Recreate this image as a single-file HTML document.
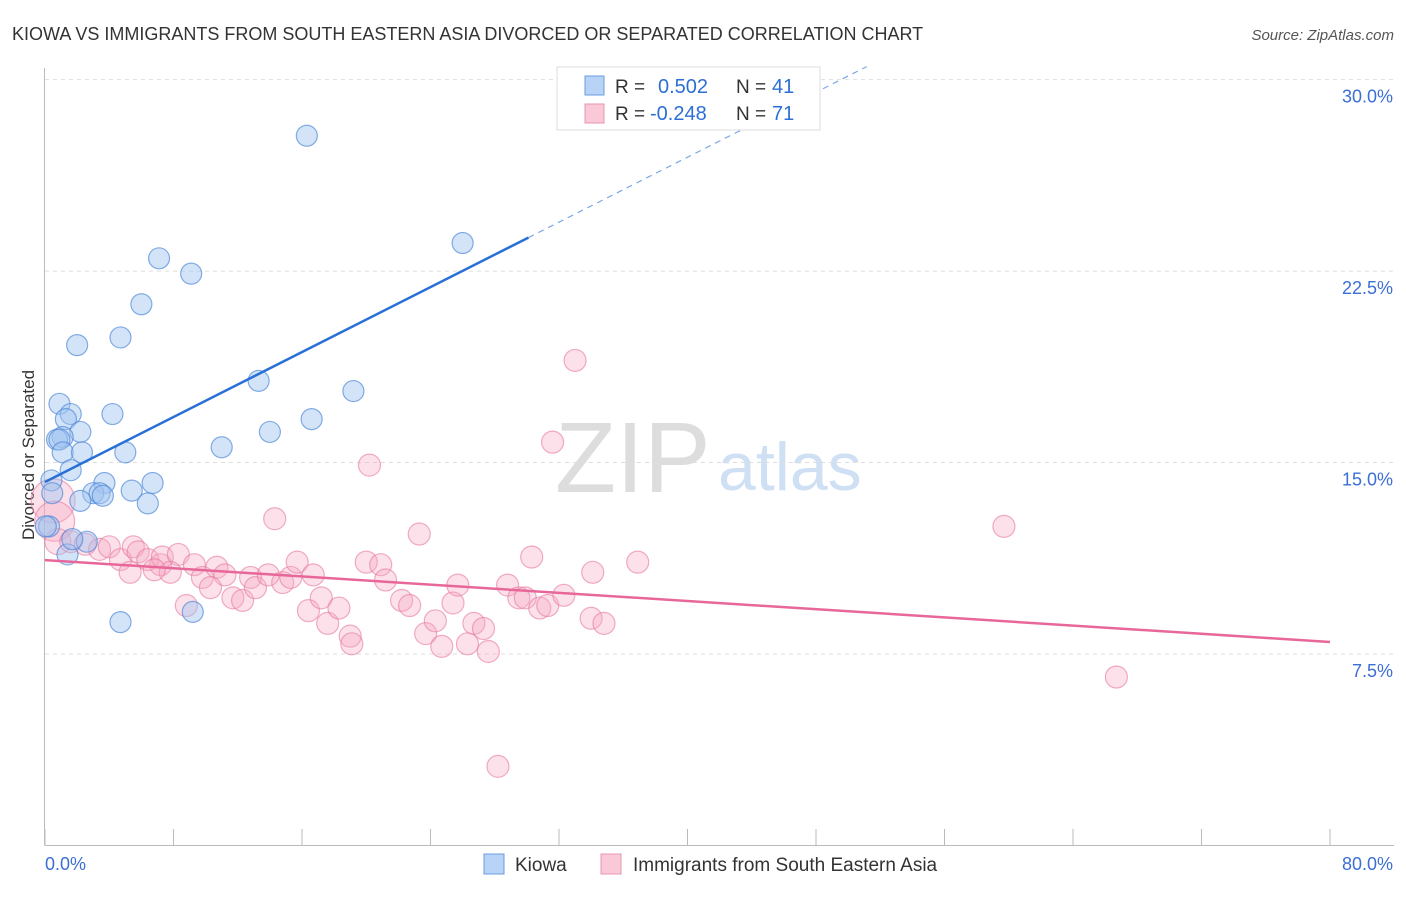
<!DOCTYPE html>
<html><head><meta charset="utf-8"><style>
body{margin:0;background:#fff;font-family:"Liberation Sans",sans-serif;}
svg text{font-family:"Liberation Sans",sans-serif;}
</style></head><body>
<svg id="c" width="1406" height="892">
<text x="12" y="40" font-size="18" fill="#333">KIOWA VS IMMIGRANTS FROM SOUTH EASTERN ASIA DIVORCED OR SEPARATED CORRELATION CHART</text>
<text x="1394" y="40" font-size="15" fill="#555" font-style="italic" text-anchor="end">Source: ZipAtlas.com</text>
<text x="34" y="455" font-size="17" fill="#333" text-anchor="middle" transform="rotate(-90 34 455)">Divorced or Separated</text>
<text x="555" y="492" font-size="100" fill="#ddd" font-family="Liberation Serif">ZIP</text>
<text x="718" y="490" font-size="68" fill="#cfe0f5">atlas</text>
<g id="grid"></g><g id="pts"></g><g id="lines"></g>
<g>
<rect x="557" y="67" width="263" height="63" fill="#fff" stroke="#ddd"/>
<rect x="585" y="76" width="19" height="19" fill="#b8d3f5" stroke="#6a9de0"/>
<text x="615" y="93" font-size="19" fill="#333">R = </text><text x="658" y="93" font-size="20" fill="#2d6fd4">0.502</text>
<text x="736" y="93" font-size="19" fill="#333">N = </text><text x="772" y="93" font-size="20" fill="#2d6fd4">41</text>
<rect x="585" y="104" width="19" height="19" fill="#f9c9d8" stroke="#e995b2"/>
<text x="615" y="120" font-size="19" fill="#333">R = </text><text x="650" y="120" font-size="20" fill="#2d6fd4">-0.248</text>
<text x="736" y="120" font-size="19" fill="#333">N = </text><text x="772" y="120" font-size="20" fill="#2d6fd4">71</text>
</g>
<g>
<rect x="484" y="854" width="20" height="20" fill="#b8d3f5" stroke="#6a9de0"/>
<text x="515" y="871" font-size="19" fill="#333">Kiowa</text>
<rect x="601" y="854" width="20" height="20" fill="#f9c9d8" stroke="#e995b2"/>
<text x="633" y="871" font-size="19" fill="#333">Immigrants from South Eastern Asia</text>
</g>
<text x="45" y="870" font-size="18" fill="#3b6fd4">0.0%</text>
<text x="1393" y="870" font-size="18" fill="#3b6fd4" text-anchor="end">80.0%</text>
</svg>
<script>
const yTicks=[7.5,15,22.5,30];
const yTickLabels=["7.5%","15.0%","22.5%","30.0%"];
const xTicks=[0,8,16,24,32,40,48,56,64,72,80];
const kiowaX=[16.3,26.0,7.1,9.1,6.0,2.0,4.7,13.3,19.2,0.9,1.6,4.2,1.3,2.2,1.1,0.75,0.9,11.0,14.0,16.6,5.0,1.1,2.3,1.6,0.4,3.7,6.7,3.0,3.4,3.6,5.4,6.4,2.2,0.45,0.25,2.6,1.4,1.7,4.7,9.2,0.05];
const kiowaY=[27.8,23.6,23.0,22.4,21.2,19.6,19.9,18.2,17.8,17.3,16.9,16.9,16.7,16.2,16.0,15.9,15.9,15.6,16.2,16.7,15.4,15.4,15.4,14.7,14.3,14.2,14.2,13.8,13.8,13.7,13.9,13.4,13.5,13.8,12.5,11.9,11.4,12.0,8.75,9.15,12.5];
const asiaX=[33.0,31.6,20.2,59.7,14.3,23.3,0.5,0.6,0.8,1.6,2.5,3.4,4.0,4.7,5.5,5.8,6.4,7.2,7.3,8.3,7.8,5.3,6.8,9.3,9.8,10.7,11.2,10.3,8.8,11.7,12.3,12.8,13.1,13.9,14.8,15.3,15.7,16.7,16.4,17.2,17.6,18.3,19.0,19.1,20.0,20.9,21.2,22.2,22.7,23.7,24.3,24.7,25.4,25.7,26.7,26.3,27.3,27.6,28.2,28.8,29.5,29.9,30.3,30.8,31.3,32.3,34.0,34.8,34.1,36.9,66.7];
const asiaY=[19.0,15.8,14.9,12.5,12.8,12.2,13.5,12.7,11.9,11.9,11.8,11.6,11.7,11.2,11.7,11.5,11.2,11.0,11.3,11.4,10.7,10.7,10.8,11.0,10.5,10.9,10.6,10.1,9.4,9.7,9.6,10.5,10.1,10.6,10.3,10.5,11.1,10.6,9.2,9.7,8.7,9.3,8.2,7.9,11.1,11.0,10.4,9.6,9.4,8.3,8.8,7.8,9.5,10.2,8.7,7.9,8.5,7.6,3.1,10.2,9.7,9.7,11.3,9.3,9.4,9.8,8.9,8.7,10.7,11.1,6.6];
const asiaR=[11,11,11,11,11,11,22,20,13,11,11,11,11,11,11,11,11,11,11,11,11,11,11,11,11,11,11,11,11,11,11,11,11,11,11,11,11,11,11,11,11,11,11,11,11,11,11,11,11,11,11,11,11,11,11,11,11,11,11,11,11,11,11,11,11,11,11,11,11,11,11];
const kiowaTrend=[14.24,0.318];
const asiaTrend=[11.18,-0.0401];
const X=v=>45+v/80*1285, Y=v=>845.5-v*25.53;
const NS="http://www.w3.org/2000/svg";
function mk(t,a,p){const e=document.createElementNS(NS,t);for(const k in a)e.setAttribute(k,a[k]);p.appendChild(e);return e;}
const g=document.getElementById('grid');
yTicks.forEach((t,i)=>{
 const l=mk('line',{x1:45,x2:1394,y1:Y(t),y2:Y(t),stroke:'#ddd','stroke-dasharray':'4,4'},g);
 
 
 const tx=mk('text',{x:1393,y:Y(t)+23,'font-size':18,fill:'#3b6fd4','text-anchor':'end'},g);
 tx.textContent=yTickLabels[i];
 
 
});
const ax=mk('line',{x1:45,x2:1394,y1:845.5,y2:845.5,stroke:'#bbb'},g);


const ay=mk('line',{x1:44.5,x2:44.5,y1:68,y2:845.5,stroke:'#bbb'},g);


xTicks.forEach(t=>{
 const l=mk('line',{x1:X(t),x2:X(t),y1:829,y2:845.5,stroke:'#bbb'},g);
 
 
});
const p=document.getElementById('pts');
asiaX.forEach((x,i)=>{
 const c=mk('circle',{cx:X(x),cy:Y(asiaY[i]),r:asiaR[i],fill:'rgba(246,168,194,0.35)',stroke:'rgba(230,120,160,0.6)','stroke-width':1.2},p);
 
 
});
kiowaX.forEach((x,i)=>{
 const c=mk('circle',{cx:X(x),cy:Y(kiowaY[i]),r:10.5,fill:'rgba(160,195,240,0.45)',stroke:'rgba(70,130,215,0.65)','stroke-width':1.2},p);
 
 
});
const L=document.getElementById('lines');
const kb=kiowaTrend[0],km=kiowaTrend[1];
const b1=mk('line',{x1:X(0),y1:Y(kb),x2:X(30.1),y2:Y(kb+km*30.1),stroke:'#2870d8','stroke-width':2.5},L);


const xe=(30-kb)/km+1.6;
const b2=mk('line',{x1:X(30.1),y1:Y(kb+km*30.1),x2:X(xe),y2:Y(kb+km*xe),stroke:'#7aa6e6','stroke-width':1.2,'stroke-dasharray':'6,5'},L);


const ab=asiaTrend[0],am=asiaTrend[1];
const pl=mk('line',{x1:X(0),y1:Y(ab),x2:X(80),y2:Y(ab+am*80),stroke:'#e8679a','stroke-width':2.5},L);


</script>
</body></html>
